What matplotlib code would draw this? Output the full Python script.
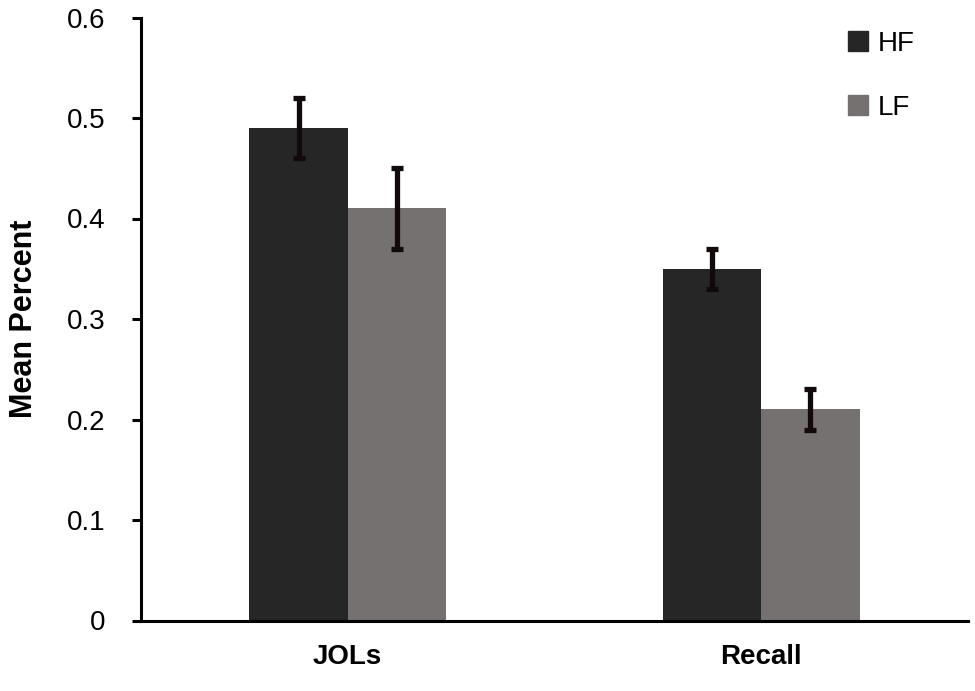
import numpy as np
import matplotlib.pyplot as plt
from matplotlib.patches import Patch

plt.rcParams['font.family'] = ['Liberation Sans', 'DejaVu Sans']

# data
categories = ['JOLs', 'Recall']
hf_mean = [0.49, 0.35]
hf_err = [0.03, 0.02]
lf_mean = [0.41, 0.21]
lf_err = [0.04, 0.02]

hf_color = '#262626'
lf_color = '#767171'

fig = plt.figure(figsize=(9.75, 6.91), dpi=100)
ax = fig.add_axes([141 / 975, 1 - 620.5 / 691, 827 / 975, (620.5 - 17.5) / 691])

x = np.arange(len(categories))
w = 0.238
err_kw = dict(ecolor='#120a0a', elinewidth=3.8, capsize=4.5, capthick=3.8)
ax.bar(x - w / 2, hf_mean, w, color=hf_color, yerr=hf_err, error_kw=err_kw, label='HF')
ax.bar(x + w / 2, lf_mean, w, color=lf_color, yerr=lf_err, error_kw=err_kw, label='LF')

ax.set_xlim(-0.5, 1.5)
ax.set_ylim(0, 0.6)
ax.set_yticks(np.arange(0, 0.61, 0.1))
ax.set_yticklabels(['0', '0.1', '0.2', '0.3', '0.4', '0.5', '0.6'])
ax.set_xticks(x)
ax.set_xticklabels(categories, fontweight='bold')

ax.spines['top'].set_visible(False)
ax.spines['right'].set_visible(False)
ax.spines['left'].set_linewidth(2.2)
ax.spines['bottom'].set_linewidth(2.2)
ax.tick_params(axis='y', labelsize=20, length=6.5, width=2.2, pad=19)
ax.tick_params(axis='x', labelsize=20, length=0, pad=17)
ax.set_ylabel('Mean Percent', fontsize=22, fontweight='bold', labelpad=20)

handles = [Patch(color=hf_color), Patch(color=lf_color)]
ax.legend(handles, ['HF', 'LF'], loc='upper left', frameon=False, fontsize=20,
          handlelength=0.72, handleheight=0.72, handletextpad=0.36, labelspacing=1.38,
          borderpad=0, borderaxespad=0, bbox_to_anchor=(0.855, 0.978))

fig.savefig('out.png', dpi=100)
